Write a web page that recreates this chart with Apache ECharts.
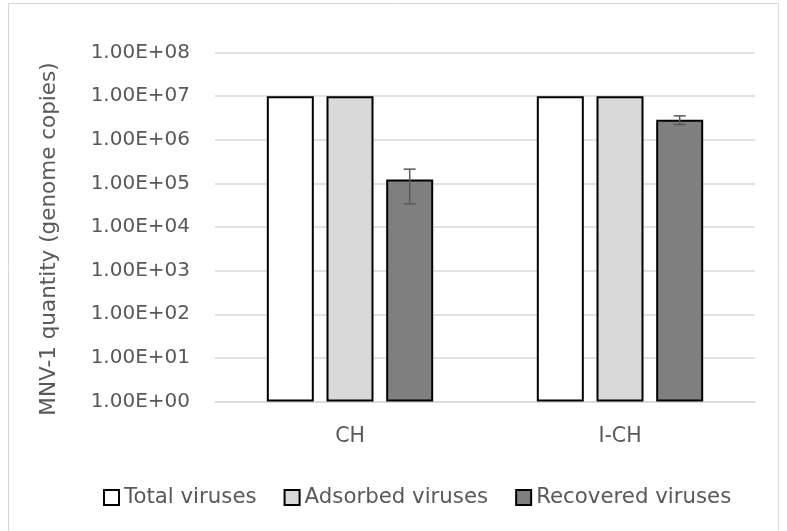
<!DOCTYPE html>
<html>
<head>
<meta charset="utf-8">
<script src="https://cdn.jsdelivr.net/npm/echarts@6/dist/echarts.min.js"></script>
<style>html,body{margin:0;padding:0;background:#fff;}#main{width:787px;height:531px;}</style>
</head>
<body>
<div id="main"></div>
<script>
var categories = ['CH', 'I-CH'];
var totalViruses = [1.0e7, 1.0e7];
var adsorbedViruses = [1.0e7, 1.0e7];
var recoveredViruses = [1.23e5, 2.88e6];
var recoveredError = [8.9e4, 6.5e5];
var seriesNames = ['Total viruses', 'Adsorbed viruses', 'Recovered viruses'];
var yMin = 1, yMax = 1e8;

var FONT = 'DejaVu Sans';
var TXT = '#595959';
var BAR_W = 47;
var BAR_GAP = 0.27;

var chart = echarts.init(document.getElementById('main'));
function expLabel(v) {
  var e = Math.round(Math.log10(v));
  return '1.00E+' + (e < 10 ? '0' : '') + e;
}
var barStyle = function (c) { return { color: c, borderColor: '#000', borderWidth: 2 }; };

chart.setOption({
  backgroundColor: '#fff',
  animation: false,
  graphic: [{
    type: 'rect', shape: { x: 8.5, y: 3.5, width: 770, height: 540 },
    style: { fill: 'none', stroke: '#d9d9d9', lineWidth: 1 }, silent: true
  }],
  grid: { left: 215, right: 32, top: 52.5, bottom: 129.5 },
  legend: {
    left: 98, top: 482, itemWidth: 15, itemHeight: 15, itemGap: 27,
    textStyle: { fontFamily: FONT, fontSize: 21.3, color: TXT },
    data: seriesNames.map(function (n) { return { name: n, icon: 'rect' }; })
  },
  xAxis: {
    type: 'category', data: categories,
    axisLine: { lineStyle: { color: '#d9d9d9', width: 1.5 } },
    axisTick: { show: false },
    axisLabel: { fontFamily: FONT, fontSize: 20.5, color: TXT, margin: 25 }
  },
  yAxis: {
    type: 'log', logBase: 10, min: yMin, max: yMax,
    name: 'MNV-1 quantity (genome copies)', nameLocation: 'middle', nameGap: 155,
    nameTextStyle: { fontFamily: FONT, fontSize: 21.5, color: TXT, padding: [0, 24, 0, 0] },
    axisLine: { show: false }, axisTick: { show: false },
    splitLine: { lineStyle: { color: '#d9d9d9', width: 1.5 } },
    axisLabel: { fontFamily: FONT, fontSize: 20, color: TXT, margin: 25, formatter: expLabel }
  },
  series: [
    { name: seriesNames[0], type: 'bar', data: totalViruses, barWidth: BAR_W, barGap: (BAR_GAP * 100) + '%', itemStyle: barStyle('#ffffff') },
    { name: seriesNames[1], type: 'bar', data: adsorbedViruses, barWidth: BAR_W, barGap: (BAR_GAP * 100) + '%', itemStyle: barStyle('#d9d9d9') },
    { name: seriesNames[2], type: 'bar', data: recoveredViruses, barWidth: BAR_W, barGap: (BAR_GAP * 100) + '%', itemStyle: barStyle('#7f7f7f') },
    {
      type: 'custom', name: 'err', z: 10, silent: true,
      data: recoveredViruses.map(function (v, i) { return [i, v - recoveredError[i], v + recoveredError[i]]; }),
      renderItem: function (params, api) {
        var i = api.value(0);
        var lo = api.coord([i, api.value(1)]);
        var hi = api.coord([i, api.value(2)]);
        var off = BAR_W * (1 + BAR_GAP);
        var x = lo[0] + off;
        var cap = 6;
        var st = { stroke: '#595959', lineWidth: 1.5 };
        return { type: 'group', children: [
          { type: 'line', shape: { x1: x, y1: lo[1], x2: x, y2: hi[1] }, style: st },
          { type: 'line', shape: { x1: x - cap, y1: lo[1], x2: x + cap, y2: lo[1] }, style: st },
          { type: 'line', shape: { x1: x - cap, y1: hi[1], x2: x + cap, y2: hi[1] }, style: st }
        ] };
      }
    }
  ]
});
</script>
</body>
</html>
